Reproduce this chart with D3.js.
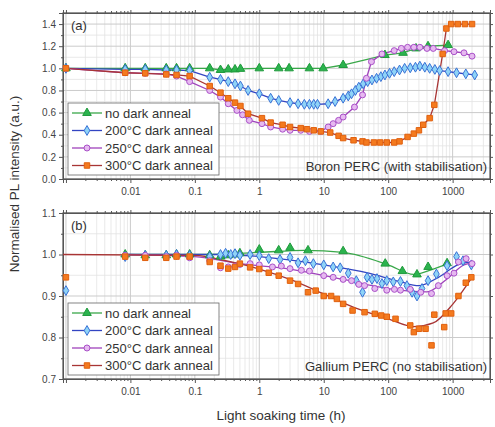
<!DOCTYPE html>
<html>
<head>
<meta charset="utf-8">
<script src="https://cdn.jsdelivr.net/npm/d3@7"></script>
<style>
  body { margin: 0; background: #fff; }
  svg text { font-family: "Liberation Sans", Arial, sans-serif; }
</style>
</head>
<body>
<div id="chart"></div>
<script>
// ---- data (time in h, normalised PL) ----
var xTickLabels = ["0.01", "0.1", "1", "10", "100", "1000"];
var seriesNames = ["no dark anneal", "200\u00B0C dark anneal", "250\u00B0C dark anneal", "300\u00B0C dark anneal"];

// panel (a) Boron PERC
var boronNone = [[0.001,1.0],[0.0083,1.0],[0.017,1.0],[0.036,1.0],[0.052,1.0],[0.083,1.0],[0.17,1.0],[0.25,0.985],[0.33,0.99],[0.42,0.99],[0.51,0.995],[1.0,1.0],[2.0,1.0],[2.9,1.0],[6,1.0],[9.8,1.0],[20,1.03],[89,1.12],[170,1.14],[270,1.18],[415,1.2],[850,1.21]];
var boron200 = [[0.001,1.0],[0.0083,0.99],[0.017,0.99],[0.036,0.985],[0.052,0.985],[0.083,0.98],[0.17,0.92],[0.25,0.9],[0.33,0.88],[0.42,0.86],[0.51,0.84],[0.67,0.8],[1.0,0.77],[1.5,0.73],[2.0,0.71],[3,0.69],[4,0.68],[5,0.675],[6,0.675],[7,0.675],[8,0.675],[11.7,0.68],[15,0.70],[20,0.73],[24,0.75],[27,0.77],[31,0.8],[35,0.83],[41,0.86],[48,0.88],[56,0.895],[66,0.91],[77,0.925],[89,0.94],[105,0.955],[124,0.97],[150,0.985],[180,1.0],[220,1.005],[265,1.01],[310,1.02],[370,1.01],[440,1.0],[530,0.99],[630,0.98],[850,0.97],[1150,0.96],[1600,0.95],[2200,0.94]];
var boron250 = [[0.001,1.0],[0.0083,0.96],[0.017,0.955],[0.036,0.95],[0.052,0.93],[0.083,0.88],[0.17,0.8],[0.25,0.74],[0.33,0.68],[0.45,0.62],[0.55,0.58],[0.7,0.53],[1.1,0.5],[1.5,0.47],[2.3,0.45],[3,0.44],[4.4,0.44],[6,0.43],[9,0.43],[11.7,0.47],[14,0.5],[17,0.53],[20,0.56],[30,0.65],[40,0.76],[46,0.91],[55,1.06],[80,1.13],[124,1.16],[160,1.18],[200,1.19],[250,1.19],[310,1.19],[400,1.18],[500,1.18],[750,1.16],[1050,1.15],[1500,1.14],[2000,1.11]];
var boron300 = [[0.001,1.0],[0.0083,0.96],[0.017,0.955],[0.036,0.945],[0.052,0.94],[0.083,0.93],[0.17,0.84],[0.25,0.78],[0.33,0.73],[0.42,0.69],[0.51,0.66],[0.67,0.59],[1.1,0.55],[1.5,0.51],[2.3,0.49],[3,0.47],[4.4,0.46],[5.5,0.45],[7,0.44],[9,0.43],[12.6,0.42],[17,0.39],[20,0.37],[29,0.35],[40,0.34],[46,0.33],[60,0.33],[75,0.33],[95,0.33],[124,0.33],[150,0.34],[200,0.38],[250,0.41],[300,0.44],[350,0.49],[440,0.55],[520,0.67],[700,1.13],[800,1.36],[950,1.4],[1200,1.4],[1550,1.4],[2000,1.4]];

// panel (b) Gallium PERC: measured points
var galliumNone = [[0.0083,1.0],[0.017,0.998],[0.036,0.998],[0.052,1.0],[0.083,1.0],[0.17,0.998],[0.25,0.995],[0.33,0.998],[0.42,1.0],[0.5,1.003],[1.0,1.012],[2.0,1.01],[3,1.016],[5.7,1.01],[20,1.008],[90,0.978],[166,0.96],[280,0.952],[416,0.97],[820,0.979]];
var gallium200 = [[0.001,0.913],[0.0083,0.995],[0.017,0.998],[0.036,0.998],[0.052,1.0],[0.083,0.998],[0.17,0.995],[0.25,1.0],[0.3,1.003],[0.36,1.0],[0.42,1.002],[0.5,0.998],[0.72,1.0],[1,0.997],[1.4,0.99],[2.1,0.988],[3,0.993],[4,0.98],[5.2,0.985],[6.9,0.978],[10,0.975],[14,0.97],[18,0.968],[24,0.955],[32,0.937],[40,0.909],[47,0.945],[56,0.94],[67,0.942],[80,0.93],[95,0.937],[120,0.934],[155,0.935],[195,0.925],[235,0.909],[280,0.90],[335,0.918],[416,0.937],[560,0.953],[820,0.973],[1150,0.995],[1450,0.985],[1950,0.975]];
var gallium250 = [[0.0083,0.998],[0.017,0.998],[0.036,0.995],[0.052,0.998],[0.083,0.992],[0.17,0.985],[0.25,0.968],[0.33,0.97],[0.42,0.972],[0.5,0.976],[0.72,0.978],[1,0.975],[1.6,0.97],[2.2,0.972],[3,0.966],[4.5,0.962],[6,0.96],[10,0.949],[14,0.945],[20,0.94],[27,0.937],[35,0.928],[43,0.925],[62,0.918],[95,0.914],[125,0.916],[155,0.914],[220,0.916],[320,0.909],[470,0.906],[600,0.925],[820,0.949],[1050,0.955],[1230,0.982],[1620,0.99],[2000,0.978]];
var gallium300 = [[0.001,0.945],[0.0083,0.995],[0.017,0.992],[0.036,0.992],[0.052,0.995],[0.083,0.995],[0.17,0.982],[0.25,0.973],[0.33,0.966],[0.42,0.97],[0.5,0.978],[0.72,0.969],[1,0.965],[1.4,0.956],[2,0.949],[3,0.937],[4,0.929],[5.7,0.909],[7.5,0.913],[10,0.90],[13,0.90],[16,0.893],[20,0.881],[28,0.865],[43,0.861],[62,0.857],[78,0.853],[95,0.85],[130,0.845],[220,0.829],[250,0.813],[300,0.821],[380,0.821],[470,0.781],[520,0.855],[740,0.825],[780,0.858],[950,0.858],[1230,0.90],[1600,0.932],[1950,0.945]];

// panel (b): fitted curves
var fitNone = [[0.0083,1.0],[0.1,1.0],[1,1.005],[5,1.01],[20,1.005],[100,0.975],[250,0.952],[500,0.965],[850,0.978]];
var fit200 = [[0.0083,1.0],[0.3,1.0],[1,0.995],[10,0.975],[50,0.955],[150,0.935],[300,0.925],[600,0.945],[1200,0.975],[2000,0.982]];
var fit250 = [[0.0083,1.0],[0.1,0.995],[0.5,0.978],[3,0.965],[20,0.94],[100,0.918],[400,0.91],[800,0.94],[1500,0.975],[2000,0.98]];
var fit300 = [[0.0009,1.0],[0.1,0.998],[0.3,0.985],[1,0.965],[3,0.94],[10,0.905],[30,0.872],[100,0.845],[250,0.826],[500,0.835],[1000,0.88],[2000,0.945]];

// ---- styles ----
var styles = [
  {line: "#3aa84a", fill: "#2bb34e", stroke: "#1f9a3c", shape: d3.symbolTriangle, size: 32},
  {line: "#3345c2", fill: "#8ed3f7", stroke: "#3a72d6", shape: d3.symbolDiamond, size: 28},
  {line: "#a043bb", fill: "#e6b9f0", stroke: "#a950c8", shape: d3.symbolCircle, size: 28},
  {line: "#a83535", fill: "#f47a1f", stroke: "#e0600e", shape: d3.symbolSquare, size: 30}
];

var svgWidth = 495, svgHeight = 427;
var left = 63, right = 490;

var svg = d3.select("#chart").append("svg")
  .attr("width", svgWidth)
  .attr("height", svgHeight);

var xScale = d3.scaleLog().domain([0.0009, 3800]).range([left, right]);

function drawPanel(top, bottom, yDomain, yMajor, yMinor, label, title, points, fits, smooth) {
  var yScale = d3.scaleLinear().domain(yDomain).range([bottom, top]);
  var g = svg.append("g");

  // grid
  var minorX = [];
  for (var e = -3; e <= 3; e++) {
    for (var m = 2; m <= 9; m++) {
      var v = m * Math.pow(10, e);
      if (v > 0.0009 && v < 3800) minorX.push(v);
    }
  }
  var majorX = [0.001, 0.01, 0.1, 1, 10, 100, 1000];
  g.selectAll(".gxm").data(minorX).enter().append("line")
    .attr("x1", d => xScale(d)).attr("x2", d => xScale(d))
    .attr("y1", top).attr("y2", bottom)
    .attr("stroke", "#e3e3e3").attr("stroke-width", 0.8);
  g.selectAll(".gym").data(yMinor).enter().append("line")
    .attr("x1", left).attr("x2", right)
    .attr("y1", d => yScale(d)).attr("y2", d => yScale(d))
    .attr("stroke", "#e3e3e3").attr("stroke-width", 0.8);
  g.selectAll(".gxM").data(majorX).enter().append("line")
    .attr("x1", d => xScale(d)).attr("x2", d => xScale(d))
    .attr("y1", top).attr("y2", bottom)
    .attr("stroke", "#cbcbcb").attr("stroke-width", 1);
  g.selectAll(".gyM").data(yMajor).enter().append("line")
    .attr("x1", left).attr("x2", right)
    .attr("y1", d => yScale(d)).attr("y2", d => yScale(d))
    .attr("stroke", "#cbcbcb").attr("stroke-width", 1);

  // axes
  var fmt = d3.format(".1f");
  var yAxis = d3.axisLeft(yScale).tickValues(yMajor).tickFormat(fmt).tickSize(4).tickPadding(3);
  var yAxisMinor = d3.axisLeft(yScale).tickValues(yMinor).tickFormat("").tickSize(2);
  var xAxis = d3.axisBottom(xScale).tickValues(majorX).tickFormat(function (d) {
    var i = majorX.indexOf(d) - 1;
    return i >= 0 ? xTickLabels[i] : "";
  }).tickSize(4).tickPadding(5);
  var xAxisMinor = d3.axisBottom(xScale).tickValues(minorX).tickFormat("").tickSize(2);

  [yAxis, yAxisMinor].forEach(function (a) {
    g.append("g").attr("class", "ax").attr("transform", `translate(${left},0)`).call(a);
  });
  [d3.axisRight(yScale).tickValues(yMajor).tickFormat("").tickSize(3),
   d3.axisRight(yScale).tickValues(yMinor).tickFormat("").tickSize(2)].forEach(function (a) {
    g.append("g").attr("class", "ax").attr("transform", `translate(${right},0)`).call(a);
  });
  [xAxis, xAxisMinor].forEach(function (a) {
    g.append("g").attr("class", "ax").attr("transform", `translate(0,${bottom})`).call(a);
  });
  [d3.axisTop(xScale).tickValues(majorX).tickFormat("").tickSize(3),
   d3.axisTop(xScale).tickValues(minorX).tickFormat("").tickSize(2)].forEach(function (a) {
    g.append("g").attr("class", "ax").attr("transform", `translate(0,${top})`).call(a);
  });
  g.selectAll(".ax path").attr("stroke", "#555");
  g.selectAll(".ax line").attr("stroke", "#555");
  g.selectAll(".ax text").attr("fill", "#444").style("font-size", "10px")
    .style("font-family", "Liberation Sans, Arial, sans-serif");

  g.append("rect")
    .attr("x", left).attr("y", top)
    .attr("width", right - left).attr("height", bottom - top)
    .attr("fill", "none").attr("stroke", "#555").attr("stroke-width", 1.2);

  // lines
  var line = d3.line()
    .x(d => xScale(d[0]))
    .y(d => yScale(d[1]))
    .curve(smooth ? d3.curveMonotoneX : d3.curveLinear);

  var lineData = fits || points;
  lineData.forEach(function (s, i) {
    if (!s) return;
    g.append("path").datum(s)
      .attr("d", line)
      .attr("fill", "none")
      .attr("stroke", styles[i].line)
      .attr("stroke-width", 1.3);
  });

  // markers
  points.forEach(function (s, i) {
    var st = styles[i];
    g.selectAll(".m" + i).data(s).enter().append("path")
      .attr("transform", d => `translate(${xScale(d[0])},${yScale(d[1])})`)
      .attr("d", d3.symbol().type(st.shape).size(st.size))
      .attr("fill", st.fill)
      .attr("stroke", st.stroke)
      .attr("stroke-width", 1);
  });

  // panel label and title
  g.append("text").attr("x", 71).attr("y", top + 17)
    .style("font-size", "13px").attr("fill", "#333").text(label);
  g.append("text").attr("x", right - 3).attr("y", bottom - 8)
    .attr("text-anchor", "end")
    .style("font-size", "13px").attr("fill", "#333").text(title);

  // legend
  var lx = 68, ly = bottom - 76, lw = 151, lh = 72;
  var leg = g.append("g");
  leg.append("rect").attr("x", lx).attr("y", ly).attr("width", lw).attr("height", lh)
    .attr("fill", "#fff").attr("stroke", "#666").attr("stroke-width", 0.8);
  seriesNames.forEach(function (name, i) {
    var yy = ly + 10 + i * 17.5;
    var st = styles[i];
    leg.append("line").attr("x1", lx + 4).attr("x2", lx + 34)
      .attr("y1", yy).attr("y2", yy)
      .attr("stroke", st.line).attr("stroke-width", 1.3);
    leg.append("path").attr("transform", `translate(${lx + 19},${yy})`)
      .attr("d", d3.symbol().type(st.shape).size(st.size))
      .attr("fill", st.fill).attr("stroke", st.stroke).attr("stroke-width", 1);
    leg.append("text").attr("x", lx + 37).attr("y", yy + 4.5)
      .style("font-size", "13px").attr("fill", "#333").text(name);
  });
}

drawPanel(13, 179, [0, 1.5],
  [0, 0.2, 0.4, 0.6, 0.8, 1.0, 1.2, 1.4],
  [0.1, 0.3, 0.5, 0.7, 0.9, 1.1, 1.3, 1.5],
  "(a)", "Boron PERC (with stabilisation)",
  [boronNone, boron200, boron250, boron300], null, false);

drawPanel(213, 379, [0.7, 1.1],
  [0.7, 0.8, 0.9, 1.0, 1.1],
  [0.75, 0.85, 0.95, 1.05],
  "(b)", "Gallium PERC (no stabilisation)",
  [galliumNone, gallium200, gallium250, gallium300],
  [fitNone, fit200, fit250, fit300], true);

// axis titles
svg.append("text")
  .attr("transform", "rotate(-90)")
  .attr("x", -184).attr("y", 19)
  .attr("text-anchor", "middle")
  .style("font-size", "13.5px").attr("fill", "#333")
  .text("Normalised PL intensity (a.u.)");

svg.append("text")
  .attr("x", 281).attr("y", 420)
  .attr("text-anchor", "middle")
  .style("font-size", "13.5px").attr("fill", "#333")
  .text("Light soaking time (h)");
</script>
</body>
</html>
